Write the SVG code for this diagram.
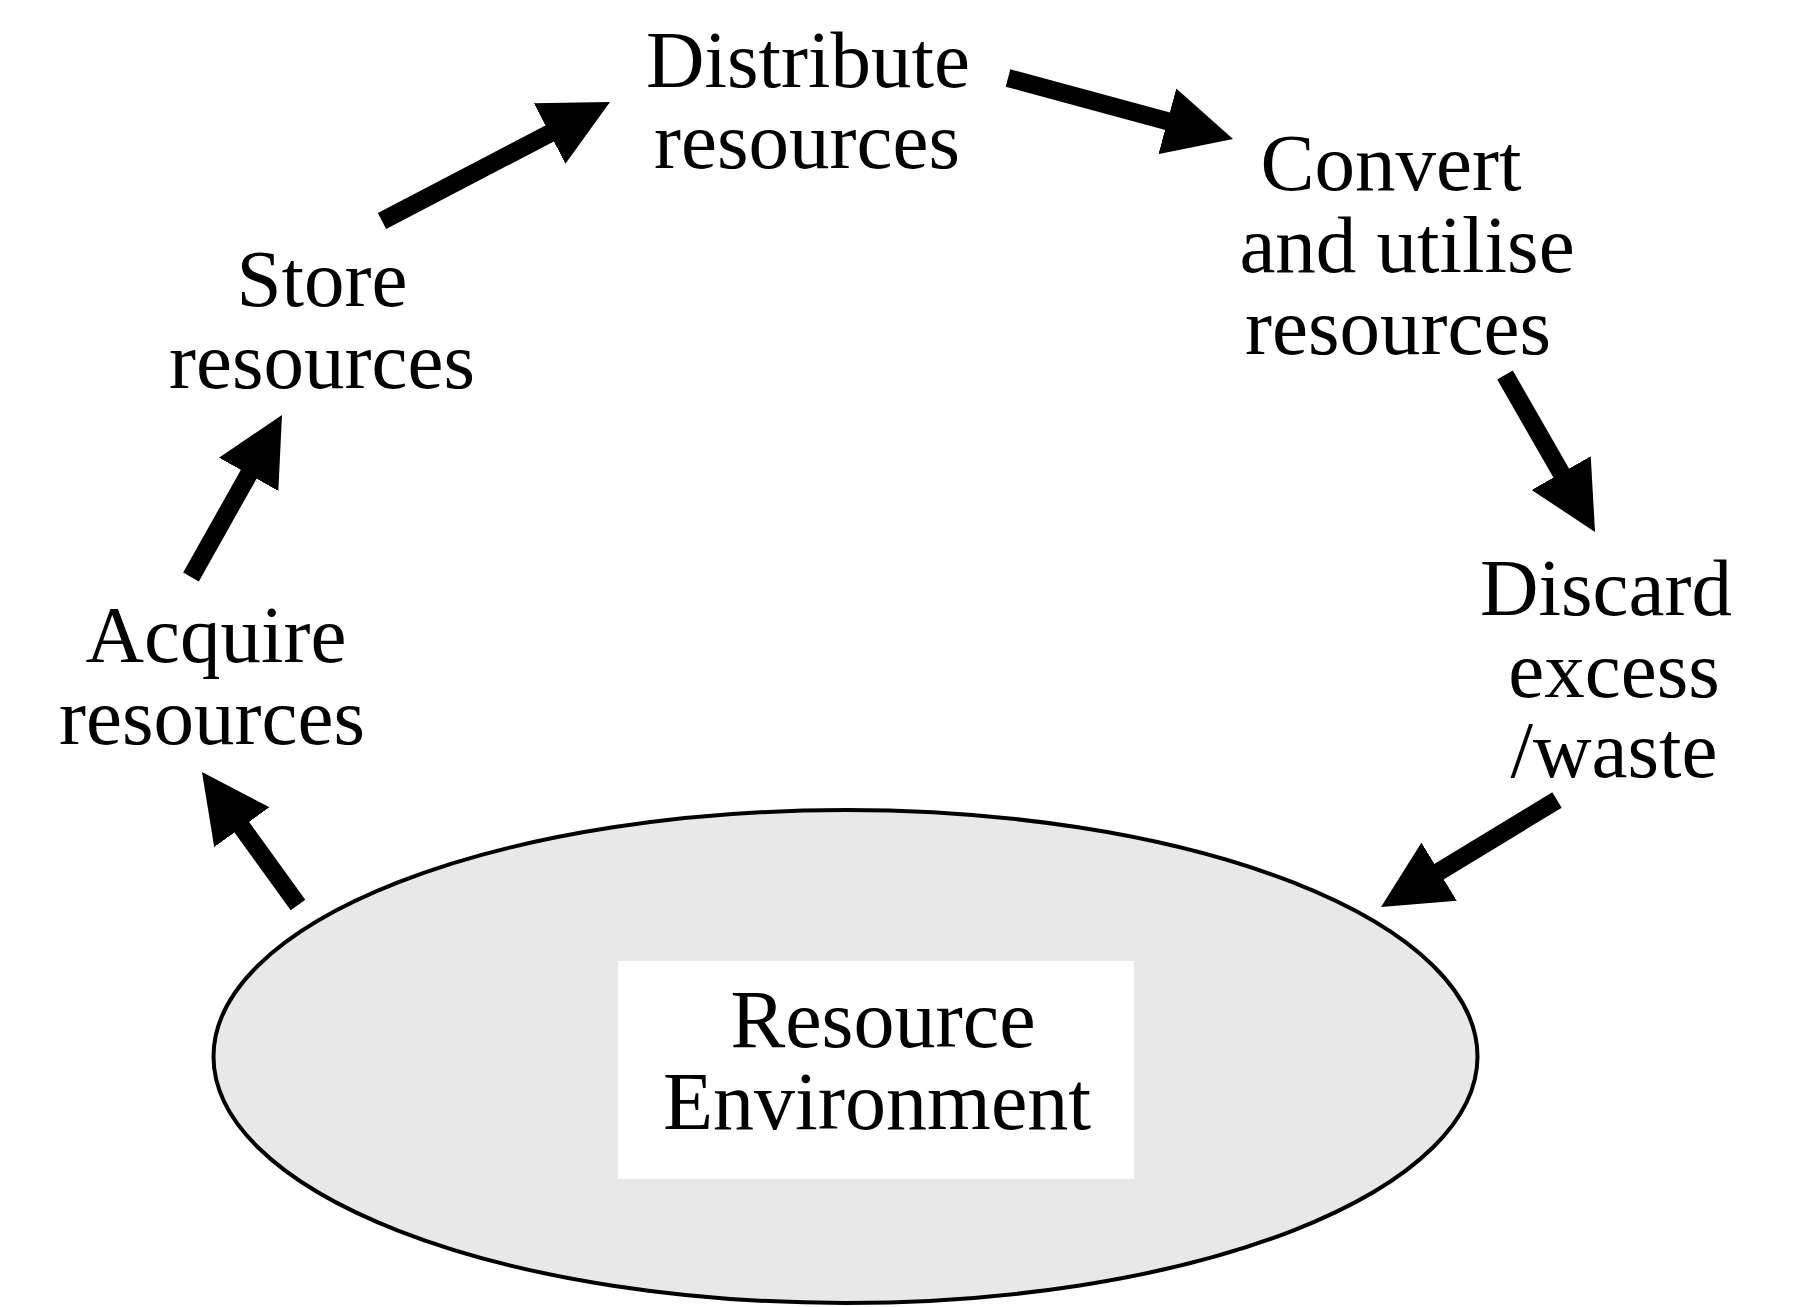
<svg xmlns="http://www.w3.org/2000/svg" width="1800" height="1307" viewBox="0 0 1800 1307">
<style>
.t{font-family:"Liberation Serif","Times New Roman",serif;font-size:81px;fill:#000;text-anchor:middle}
.c{stroke:#000;stroke-width:18;fill:none;stroke-linecap:butt}
</style>
<defs>
<marker id="ah" markerUnits="userSpaceOnUse" markerWidth="68" markerHeight="68" viewBox="0 0 68 68" refX="8" refY="34" orient="auto">
<path d="M0,0 L68,34 L0,68 z" fill="#000"/>
</marker>
</defs>
<rect width="1800" height="1307" fill="#fff"/>
<g id="env">
<ellipse cx="845.5" cy="1056.5" rx="632" ry="246.5" fill="#e8e8e8" stroke="#000" stroke-width="4"/>
<rect x="618" y="961" width="516" height="218" fill="#fff"/>
<text class="t" style="font-size:82px" x="883" y="1047">Resource</text>
<text class="t" style="font-size:82px" x="877" y="1129">Environment</text>
</g>
<g id="acquire">
<text class="t" x="216" y="662">Acquire</text>
<text class="t" x="212" y="744">resources</text>
</g>
<g id="store">
<text class="t" x="322" y="306">Store</text>
<text class="t" x="322" y="388">resources</text>
</g>
<g id="distribute">
<text class="t" x="808" y="87">Distribute</text>
<text class="t" x="807" y="168">resources</text>
</g>
<g id="convert">
<text class="t" x="1391" y="190">Convert</text>
<text class="t" x="1407" y="272">and utilise</text>
<text class="t" x="1398" y="354">resources</text>
</g>
<g id="discard">
<text class="t" x="1606" y="615">Discard</text>
<text class="t" x="1614" y="697">excess</text>
<text class="t" x="1614" y="777">/waste</text>
</g>
<g id="connectors">
<line class="c" x1="382" y1="221" x2="556.8" y2="129.8" marker-end="url(#ah)"/>
<line class="c" x1="1008" y1="78" x2="1175.1" y2="123.3" marker-end="url(#ah)"/>
<line class="c" x1="1505" y1="375" x2="1565.2" y2="480" marker-end="url(#ah)"/>
<line class="c" x1="1557" y1="800" x2="1432.3" y2="875.8" marker-end="url(#ah)"/>
<line class="c" x1="191" y1="577" x2="252.6" y2="467.3" marker-end="url(#ah)"/>
<line class="c" x1="298" y1="905" x2="237.1" y2="820.7" marker-end="url(#ah)"/>
</g>
</svg>
